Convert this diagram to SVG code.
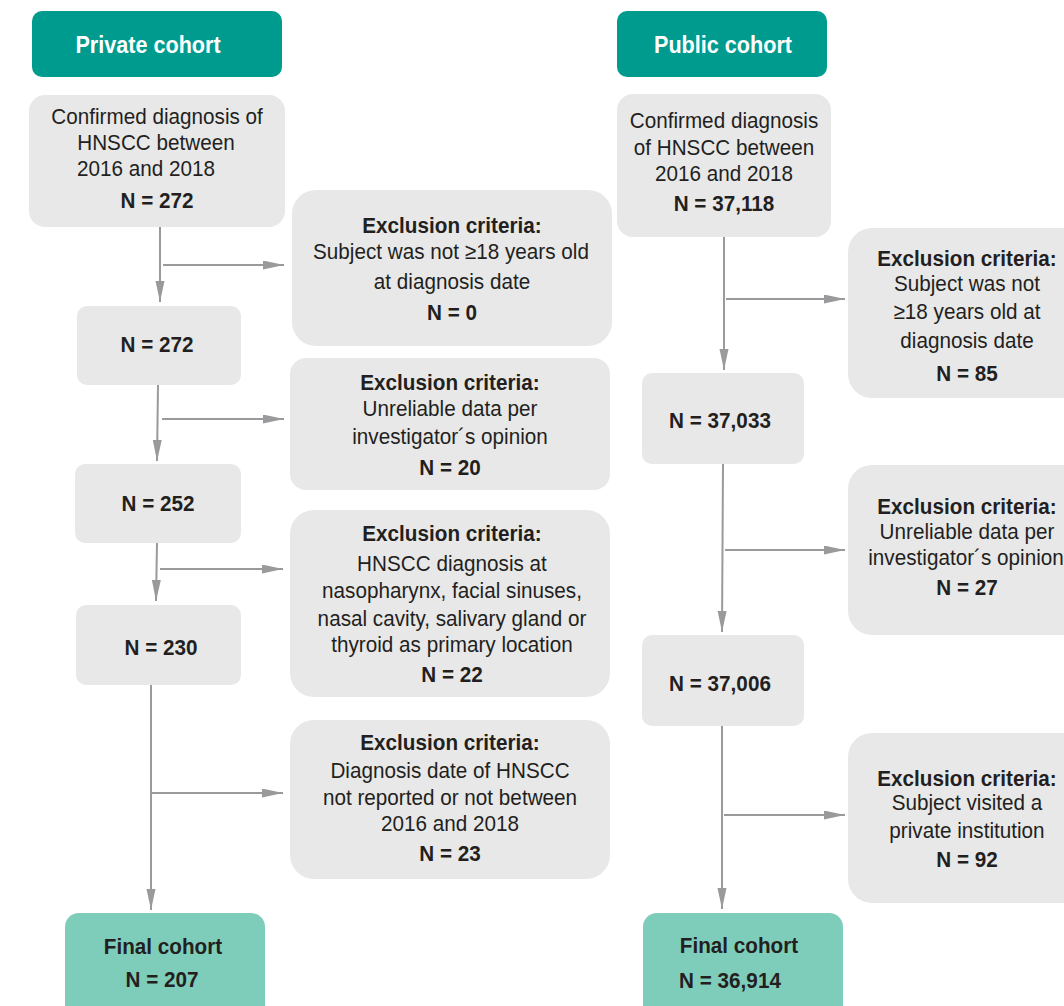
<svg xmlns="http://www.w3.org/2000/svg" width="1064" height="1006" viewBox="0 0 1064 1006">
<defs>
<marker id="arr" markerUnits="userSpaceOnUse" markerWidth="22" markerHeight="10" refX="21" refY="4.5" orient="auto">
<path d="M0,0 L21,4.5 L0,9 Z" fill="#9a9a9c"/>
</marker>
<style>
.hdr{fill:#009b8f}
.box{fill:#e8e8e8}
.fin{fill:#7ecdbb}
.conn line{stroke:#9a9a9c;stroke-width:2;fill:none}
text{font-family:"Liberation Sans",Arial,sans-serif;font-size:22.5px;fill:#231f20;text-anchor:middle;transform-box:fill-box;transform-origin:center;transform:scaleX(0.92)}
.b{font-weight:bold}
.w{fill:#ffffff;font-weight:bold;font-size:24px;transform:scaleX(0.9)}
</style>
</defs>
<rect width="1064" height="1006" fill="#ffffff"/>

<g id="private-header"><rect class="hdr" x="32" y="11" width="250" height="66" rx="10"/><text class="w" x="148" y="53">Private cohort</text></g>
<g id="public-header"><rect class="hdr" x="617" y="11" width="210" height="66" rx="10"/><text class="w" x="723" y="53">Public cohort</text></g>

<g id="priv-start"><rect class="box" x="29" y="95" width="256" height="132" rx="16"/>
<text x="157" y="124">Confirmed diagnosis of</text>
<text x="156" y="150">HNSCC between</text>
<text x="146" y="176">2016 and 2018</text>
<text class="b" x="157" y="208">N = 272</text></g>

<g id="priv-n272"><rect class="box" x="77" y="306" width="164" height="79" rx="10"/><text class="b" x="157" y="352">N = 272</text></g>
<g id="priv-n252"><rect class="box" x="75" y="464" width="166" height="79" rx="10"/><text class="b" x="158" y="511">N = 252</text></g>
<g id="priv-n230"><rect class="box" x="76" y="605" width="165" height="80" rx="10"/><text class="b" x="161" y="655">N = 230</text></g>
<g id="priv-final"><rect class="fin" x="65" y="913" width="200" height="110" rx="14"/>
<text class="b" x="163" y="954">Final cohort</text><text class="b" x="162" y="987">N = 207</text></g>

<g id="priv-ex1"><rect class="box" x="292" y="190" width="320" height="156" rx="24"/>
<text class="b" x="452" y="233">Exclusion criteria:</text>
<text x="451" y="259">Subject was not ≥18 years old</text>
<text x="452" y="289">at diagnosis date</text>
<text class="b" x="452" y="320">N = 0</text></g>

<g id="priv-ex2"><rect class="box" x="290" y="358" width="320" height="132" rx="16"/>
<text class="b" x="450" y="390">Exclusion criteria:</text>
<text x="450" y="416">Unreliable data per</text>
<text x="450" y="444">investigator´s opinion</text>
<text class="b" x="450" y="475">N = 20</text></g>

<g id="priv-ex3"><rect class="box" x="290" y="510" width="320" height="187" rx="24"/>
<text class="b" x="452" y="541">Exclusion criteria:</text>
<text x="452" y="571">HNSCC diagnosis at</text>
<text x="452" y="598">nasopharynx, facial sinuses,</text>
<text x="452" y="626">nasal cavity, salivary gland or</text>
<text x="452" y="652">thyroid as primary location</text>
<text class="b" x="452" y="682">N = 22</text></g>

<g id="priv-ex4"><rect class="box" x="290" y="720" width="320" height="159" rx="24"/>
<text class="b" x="450" y="750">Exclusion criteria:</text>
<text x="450" y="778">Diagnosis date of HNSCC</text>
<text x="450" y="805">not reported or not between</text>
<text x="450" y="831">2016 and 2018</text>
<text class="b" x="450" y="861">N = 23</text></g>

<g id="pub-start"><rect class="box" x="617" y="94" width="214" height="143" rx="16"/>
<text x="724" y="128">Confirmed diagnosis</text>
<text x="724" y="155">of HNSCC between</text>
<text x="724" y="181">2016 and 2018</text>
<text class="b" x="724" y="211">N = 37,118</text></g>

<g id="pub-n37033"><rect class="box" x="642" y="373" width="162" height="91" rx="10"/><text class="b" x="720" y="428">N = 37,033</text></g>
<g id="pub-n37006"><rect class="box" x="642" y="635" width="162" height="91" rx="10"/><text class="b" x="720" y="691">N = 37,006</text></g>
<g id="pub-final"><rect class="fin" x="643" y="913" width="200" height="110" rx="14"/>
<text class="b" x="739" y="953">Final cohort</text><text class="b" x="730" y="988">N = 36,914</text></g>

<g id="pub-ex1"><rect class="box" x="848" y="228" width="240" height="170" rx="24"/>
<text class="b" x="967" y="266">Exclusion criteria:</text>
<text x="967" y="291">Subject was not</text>
<text x="967" y="319">≥18 years old at</text>
<text x="967" y="348">diagnosis date</text>
<text class="b" x="967" y="381">N = 85</text></g>

<g id="pub-ex2"><rect class="box" x="848" y="465" width="240" height="170" rx="24"/>
<text class="b" x="967" y="514">Exclusion criteria:</text>
<text x="967" y="539">Unreliable data per</text>
<text x="966" y="565">investigator´s opinion</text>
<text class="b" x="967" y="595">N = 27</text></g>

<g id="pub-ex3"><rect class="box" x="848" y="733" width="240" height="170" rx="24"/>
<text class="b" x="967" y="786">Exclusion criteria:</text>
<text x="967" y="810">Subject visited a</text>
<text x="967" y="838">private institution</text>
<text class="b" x="967" y="867">N = 92</text></g>

<g id="connectors" class="conn">
<line x1="160" y1="227" x2="160" y2="302" marker-end="url(#arr)"/>
<line x1="163" y1="265" x2="284" y2="265" marker-end="url(#arr)"/>
<line x1="158" y1="385" x2="157" y2="461" marker-end="url(#arr)"/>
<line x1="162" y1="419" x2="284" y2="419" marker-end="url(#arr)"/>
<line x1="157" y1="543" x2="156" y2="601" marker-end="url(#arr)"/>
<line x1="160" y1="569" x2="283" y2="569" marker-end="url(#arr)"/>
<line x1="151" y1="685" x2="151" y2="910" marker-end="url(#arr)"/>
<line x1="152" y1="793" x2="283" y2="793" marker-end="url(#arr)"/>
<line x1="724" y1="237" x2="724" y2="370" marker-end="url(#arr)"/>
<line x1="726" y1="299" x2="845" y2="299" marker-end="url(#arr)"/>
<line x1="723" y1="464" x2="722" y2="632" marker-end="url(#arr)"/>
<line x1="725" y1="550" x2="845" y2="550" marker-end="url(#arr)"/>
<line x1="722" y1="726" x2="722" y2="909" marker-end="url(#arr)"/>
<line x1="724" y1="815" x2="845" y2="815" marker-end="url(#arr)"/>
</g>
</svg>
